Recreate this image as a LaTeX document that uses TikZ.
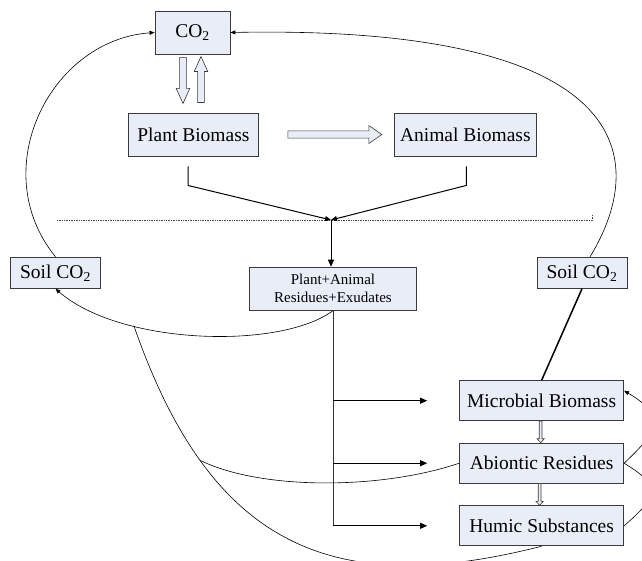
\documentclass[tikz,border=0pt]{standalone}
\usepackage{fontspec}
\setmainfont{Liberation Serif}
\usepackage{xcolor}
\usepackage{tikz}
\usetikzlibrary{positioning,arrows.meta,calc}
\definecolor{BoxBg}{HTML}{E8EDF8}
\definecolor{BoxLine}{HTML}{3A3A3A}

\tikzset{
  pool/.style={draw=BoxLine, fill=BoxBg, line width=0.9pt, inner sep=0pt,
               align=center, font=\fontsize{19.5}{23}\selectfont},
  flow/.style={line width=0.9pt, -{Triangle[length=7pt,width=6pt]}},
  cycleline/.style={line width=0.6pt},
  tip/.style={-{Triangle[length=5pt,width=4pt]}},
  pics/hollow/.style args={#1/#2/#3/#4}{code={
    \draw[fill=BoxBg, draw=BoxLine, line width=0.6pt] (0,-#2) -- (#1-#4,-#2) -- (#1-#4,-#3)
      -- (#1,0) -- (#1-#4,#3) -- (#1-#4,#2) -- (0,#2) -- cycle;}}
}

\begin{document}
\begin{tikzpicture}[x=1pt,y=-1pt]
  \useasboundingbox (0,0) rectangle (642,561);
  \clip (0,0) rectangle (642,561);

  % above ground
  \node[pool, minimum width=75pt, minimum height=43pt] (co2) at (192.5,32.5) {CO\textsubscript{2}};
  \node[pool, minimum width=130pt, minimum height=43pt] (plant) at (193.4,134.5) {Plant Biomass};
  \node[pool, minimum width=142.6pt, minimum height=43pt] (animal) at (465.3,134.5) {Animal Biomass};

  % below ground
  \node[pool, minimum width=167pt, minimum height=43pt, font=\fontsize{15}{18}\selectfont]
    (residues) at (333,288.7) {Plant+Animal\\Residues+Exudates};
  \node[pool, minimum width=90pt, minimum height=31pt] (soilL) at (55.5,272.8) {Soil CO\textsubscript{2}};
  \node[pool, minimum width=90pt, minimum height=31pt] (soilR) at (582,272.8) {Soil CO\textsubscript{2}};
  \node[pool, minimum width=164pt, minimum height=40pt] (microbe) at (541.6,400.7) {Microbial Biomass};
  \node[pool, minimum width=164pt, minimum height=40pt, below=21.6pt of microbe] (abiotic) {Abiontic Residues};
  \node[pool, minimum width=164pt, minimum height=40pt, below=21.7pt of abiotic] (humic) {Humic Substances};

  % hollow arrows
  \pic[rotate=-90] at ($(co2.south)+(-9.5,3)$) {hollow=46/3.4/6.8/15};
  \pic[rotate=90] at ($(plant.north)+(7.6,-10)$) {hollow=46/3.4/6.8/15};
  \pic at ($(plant.east)+(29,0)$) {hollow=94/3.6/9/13};
  \pic[rotate=-90] at ($(microbe.south)+(-1,0)$) {hollow=21.6/1.4/3.6/4};
  \pic[rotate=-90] at ($(abiotic.south)+(-2,0)$) {hollow=21.7/1.4/3.6/4};

  % litter input
  \coordinate (meet) at (331,220);
  \draw[densely dotted, line width=0.7pt, black!75] (57,220.7) coordinate (groundL)
    -- (592.6,220.7) coordinate (groundR) -- ++(0,-6.5);
  \draw[line width=1pt, -{Triangle[length=6pt,width=5pt]}] ($(plant.south)+(-5.4,10)$) -- ++(0,19) -- (meet);
  \draw[line width=1pt, -{Triangle[length=6pt,width=5pt]}] ($(animal.south)+(1,10)$) -- ++(0,19) -- (meet);
  \draw[flow] (meet) -- (residues.north -| meet);

  \draw[line width=0.9pt, black!80] (residues.south) -- (residues.south |- humic.west);
  \foreach \b in {microbe, abiotic, humic}
    \draw[flow] (residues.south |- \b.west) -- ($(\b.west)+(-32,0)$);

  % respiration
  \draw[cycleline, tip] (soilL.north) .. controls (-15,170) and (50,40) .. (co2.west);
  \draw[cycleline, tip] ($(soilR.north)+(8,0)$) .. controls (655,150) and (620,25) .. (co2.east);
  \draw[cycleline, tip] (residues.south) .. controls (280,350) and (120,345) .. (soilL.south)
    coordinate[pos=0.7] (j1);
  \draw[cycleline] (humic.south) .. controls (330,600) and (210,545) .. (j1)
    coordinate[pos=0.75] (j2);
  \draw[cycleline] (abiotic.west) .. controls (380,490) and (260,490) .. (j2);
  \draw[line width=1.5pt] (soilR.south) -- (microbe.north);

  % recycling
  \draw[cycleline, tip] (abiotic.east) .. controls (660,430) and (665,415) .. ($(microbe.east)+(0,-10)$);
  \draw[cycleline] (humic.east) .. controls (660,495) and (660,485) .. (abiotic.east);
\end{tikzpicture}
\end{document}
